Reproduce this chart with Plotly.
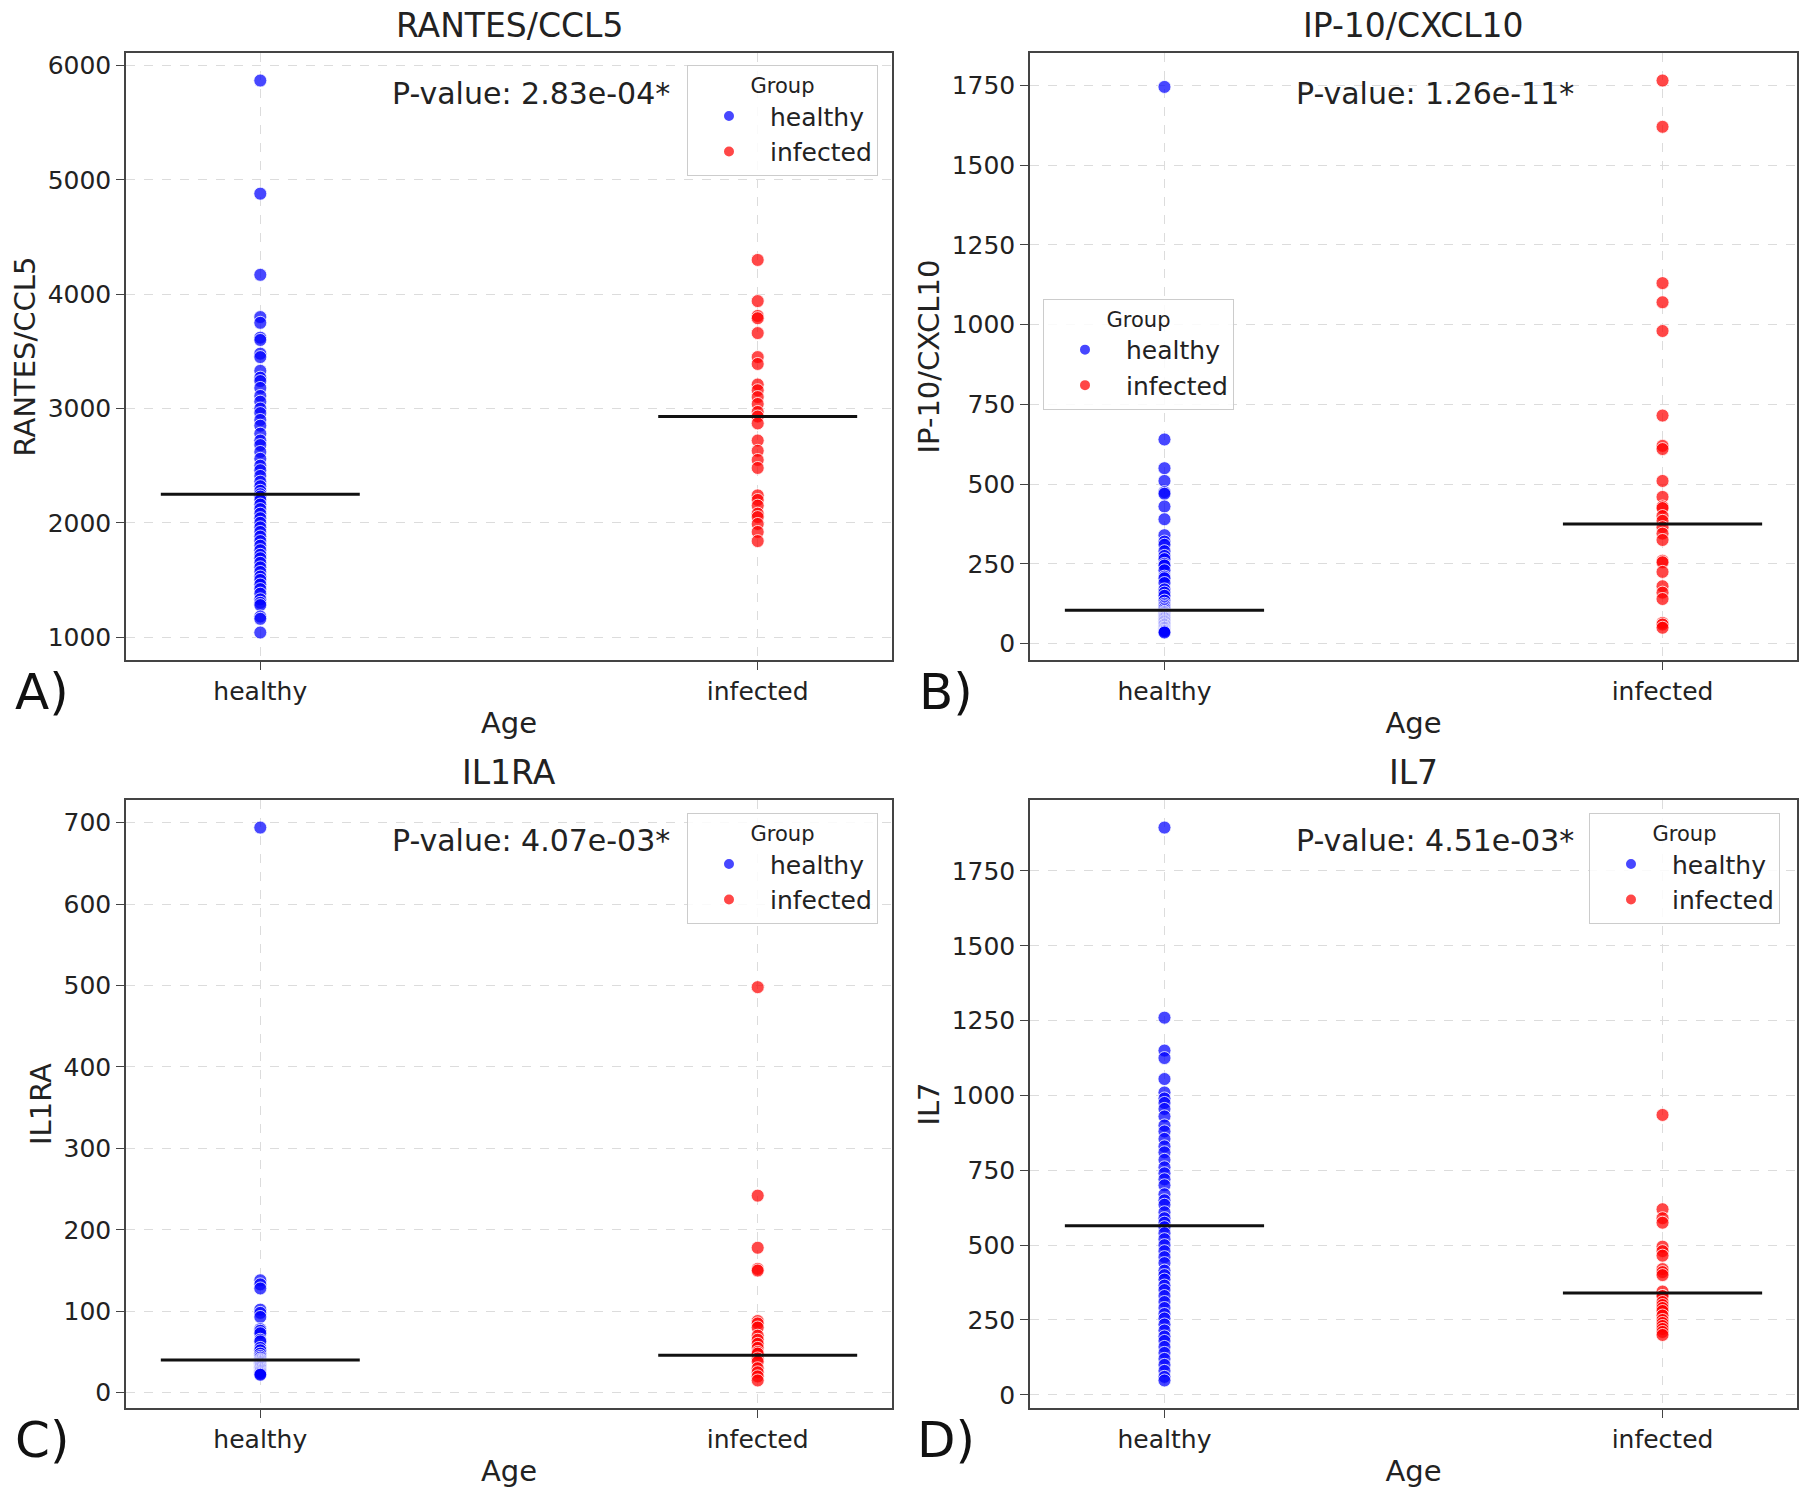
import plotly.graph_objects as go

FONT = "DejaVu Sans"
categories = ["healthy", "infected"]

# ---- Panel A: RANTES/CCL5 ----
rantes_healthy = [5870, 4880, 4170, 3800, 3750, 3620, 3600, 3480, 3450, 3330, 3270, 3240,
                  3180, 3110, 3060, 3000, 2960, 2900, 2850, 2780, 2720, 2680, 2620, 2560,
                  2500, 2460, 2410, 2360, 2320, 2280, 2250, 2230, 2200, 2160, 2120, 2080,
                  2040, 2000, 1960, 1920, 1880, 1840, 1800, 1760, 1720, 1690, 1650, 1610,
                  1570, 1530, 1500, 1460, 1420, 1380, 1330, 1300, 1280, 1180, 1160, 1040]
rantes_infected = [4300, 3940, 3810, 3790, 3660, 3450, 3390, 3210, 3160, 3100, 3040, 2970,
                   2930, 2870, 2720, 2630, 2550, 2480, 2240, 2200, 2150, 2080, 2050, 1990,
                   1920, 1840]
rantes_median = [2250, 2930]

# ---- Panel B: IP-10/CXCL10 ----
ip10_healthy = [1745, 640, 550, 510, 475, 470, 430, 390, 340, 320, 310, 290, 275, 265, 250,
                245, 230, 210, 205, 190, 170, 160, 150, 135, 125, 120, 115, 110, 105, 100,
                98, 95, 92, 90, 88, 85, 82, 80, 78, 75, 72, 70, 68, 65, 62, 60, 58, 55, 52,
                50, 48, 45, 42, 40, 38, 35]
ip10_infected = [1765, 1620, 1130, 1070, 980, 715, 620, 610, 510, 460, 430, 425, 400, 385,
                 365, 345, 325, 260, 255, 225, 180, 160, 140, 65, 60, 50]
ip10_median = [105, 375]

# ---- Panel C: IL1RA ----
il1ra_healthy = [694, 138, 133, 128, 102, 98, 93, 78, 76, 73, 65, 63, 55, 52, 48, 45, 43, 41,
                 40, 39, 38, 37, 36, 35, 34, 33, 32, 31, 30, 29, 28, 27, 26, 25, 24, 23, 22]
il1ra_infected = [498, 242, 178, 152, 150, 88, 85, 80, 70, 65, 60, 55, 50, 48, 42, 38, 30,
                  25, 20, 15]
il1ra_median = [40, 46]

# ---- Panel D: IL7 ----
il7_healthy = [1895, 1260, 1150, 1125, 1055, 1010, 990, 975, 955, 930, 900, 880, 855, 830,
               810, 785, 760, 740, 720, 700, 670, 650, 635, 610, 590, 575, 560, 540, 520,
               500, 480, 460, 440, 415, 400, 385, 365, 350, 330, 310, 290, 270, 255, 235,
               215, 195, 180, 160, 140, 120, 100, 80, 60, 48]
il7_infected = [935, 620, 590, 575, 495, 480, 465, 420, 410, 400, 345, 330, 330, 310, 300,
                290, 280, 265, 250, 240, 230, 220, 210, 200]
il7_median = [565, 340]

titles = ["RANTES/CCL5", "IP-10/CXCL10", "IL1RA", "IL7"]
pvalues = ["P-value: 2.83e-04*", "P-value: 1.26e-11*", "P-value: 4.07e-03*", "P-value: 4.51e-03*"]
letters = ["A)", "B)", "C)", "D)"]
dticks = [1000, 250, 100, 250]

panels = [
    (rantes_healthy, rantes_infected, rantes_median),
    (ip10_healthy, ip10_infected, ip10_median),
    (il1ra_healthy, il1ra_infected, il1ra_median),
    (il7_healthy, il7_infected, il7_median),
]

W, H = 1800, 1492
# plot-area pixel boxes (left, right, top, bottom)
boxes = [(126, 892, 52, 660), (1030, 1797, 52, 660),
         (126, 892, 800, 1409), (1030, 1797, 800, 1409)]
# legend anchor (x px, y px, xanchor)
legend_pos = [(878, 64, "right"), (1043, 298, "left"), (878, 813, "right"), (1780, 813, "right")]

colors = ["rgba(0,0,255,0.72)", "rgba(255,0,0,0.72)"]

fig = go.Figure()
layout = dict(width=W, height=H, margin=dict(l=0, r=0, t=0, b=0),
              paper_bgcolor="white", plot_bgcolor="white",
              font=dict(family=FONT, size=25, color="#222"))
annotations = []

for i, (hv, iv, med) in enumerate(panels):
    n = i + 1
    xa = "x" if n == 1 else f"x{n}"
    ya = "y" if n == 1 else f"y{n}"
    leg = "legend" if n == 1 else f"legend{n}"
    for ci, (vals, name) in enumerate([(hv, "healthy"), (iv, "infected")]):
        fig.add_trace(go.Scatter(
            x=[ci] * len(vals), y=vals, mode="markers", name=name,
            marker=dict(color=colors[ci], size=13, line=dict(color="white", width=0.8)),
            xaxis=xa, yaxis=ya, legend=leg, showlegend=True))
    for ci in range(2):
        fig.add_trace(go.Scatter(
            x=[ci - 0.2, ci + 0.2], y=[med[ci], med[ci]], mode="lines",
            line=dict(color="#111", width=3), xaxis=xa, yaxis=ya, showlegend=False,
            hoverinfo="skip"))
    l, r, t, b = boxes[i]
    allv = hv + iv
    lo, hi = min(allv), max(allv)
    span = hi - lo
    axis_common = dict(showline=True, linecolor="#444", linewidth=1.5, mirror=True,
                       showgrid=True, gridcolor="#dcdcdc", griddash="dash", gridwidth=1,
                       zeroline=False, ticks="outside", ticklen=8, tickcolor="#444",
                       tickfont=dict(size=25, family=FONT, color="#222"))
    xkey = "xaxis" if n == 1 else f"xaxis{n}"
    ykey = "yaxis" if n == 1 else f"yaxis{n}"
    layout[xkey] = dict(domain=[l / W, r / W], anchor=ya, range=[-0.27, 1.27],
                        tickvals=[0, 1], ticktext=categories,
                        title=dict(text="Age", font=dict(size=29, family=FONT, color="#222"), standoff=8),
                        **axis_common)
    layout[ykey] = dict(domain=[1 - b / H, 1 - t / H], anchor=xa,
                        range=[lo - 0.05 * span, hi + 0.05 * span], dtick=dticks[i],
                        title=dict(text=titles[i], font=dict(size=29, family=FONT, color="#222"), standoff=3),
                        **axis_common)
    lx, ly, xanc = legend_pos[i]
    layout[leg] = dict(x=lx / W, y=1 - ly / H, xanchor=xanc, yanchor="top",
                       xref="paper", yref="paper",
                       bgcolor="rgba(255,255,255,0.85)", bordercolor="#cccccc", borderwidth=1,
                       font=dict(size=25, family=FONT, color="#222"),
                       title=dict(text="Group", side="top center", font=dict(size=21, family=FONT, color="#222")),
                       itemsizing="constant", itemwidth=72, tracegroupgap=0)
    # title
    annotations.append(dict(text=titles[i], x=(l + r) / 2 / W, y=1 - (t - 27) / H,
                            xref="paper", yref="paper", showarrow=False,
                            xanchor="center", yanchor="middle",
                            font=dict(size=33, family=FONT, color="#222")))
    # p-value
    annotations.append(dict(text=pvalues[i], x=(l + 405) / W, y=1 - (t + 41) / H,
                            xref="paper", yref="paper", showarrow=False,
                            xanchor="center", yanchor="middle",
                            font=dict(size=30, family=FONT, color="#222")))
    # panel letter
    annotations.append(dict(text=letters[i], x=(l - 84) / W, y=1 - (b + 32) / H,
                            xref="paper", yref="paper", showarrow=False,
                            xanchor="center", yanchor="middle",
                            font=dict(size=50, family=FONT, color="#111")))

layout["annotations"] = annotations
fig.update_layout(**layout)
fig.write_html("out.html")
